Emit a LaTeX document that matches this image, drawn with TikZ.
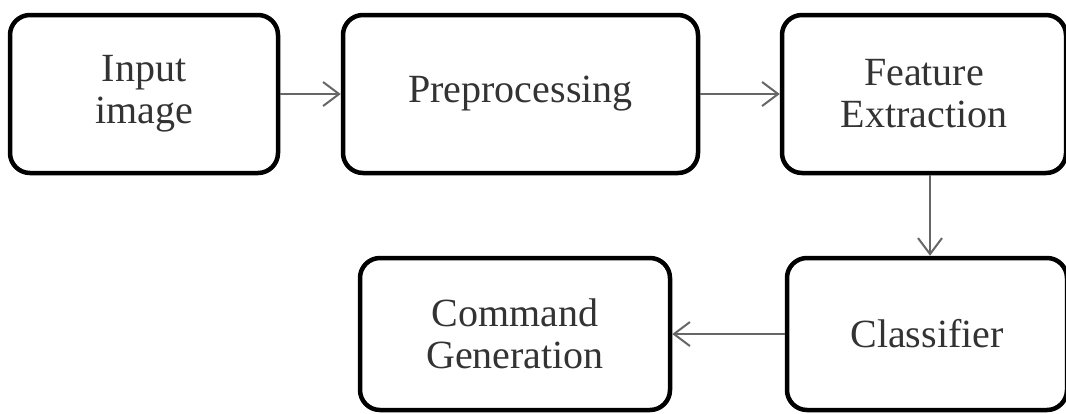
\documentclass[tikz,border=0pt]{standalone}
\usepackage{fontspec}
\setmainfont{Liberation Serif}
\usetikzlibrary{arrows.meta}
\begin{document}
\begin{tikzpicture}[x=1pt,y=-1pt,
  blk/.style={draw=black,line width=4.5pt,rounded corners=20pt,fill=white,
    text=black!80,align=center,inner sep=0pt,
    font=\fontsize{40}{42}\selectfont},
  conn/.style={draw=black!60,line width=2.2pt,-{Straight Barb[length=16pt,width=24pt,line width=2pt]}}]
\useasboundingbox (0,0) rectangle (1066,413);
\fill[white] (0,0) rectangle (1066,413);
\node[blk,minimum width=268pt,minimum height=158pt] (in) at (144,94) {Input\\image};
\node[blk,minimum width=355pt,minimum height=158pt] (pre) at (520.5,94) {Preprocessing};
\node[blk,minimum width=284pt,minimum height=158pt] (fe) at (924,94) {Feature\\Extraction};
\node[blk,minimum width=280pt,minimum height=152pt] (cl) at (927,334) {Classifier};
\node[blk,minimum width=310pt,minimum height=152pt] (cg) at (515,334) {Command\\Generation};
\draw[conn] (in.east) -- (pre.west);
\draw[conn] (pre.east) -- (fe.west);
\draw[conn] ([xshift=6pt]fe.south) -- ([xshift=6pt]fe.south |- cl.north);
\draw[conn] (cl.west) -- (cg.east);
\end{tikzpicture}
\end{document}
